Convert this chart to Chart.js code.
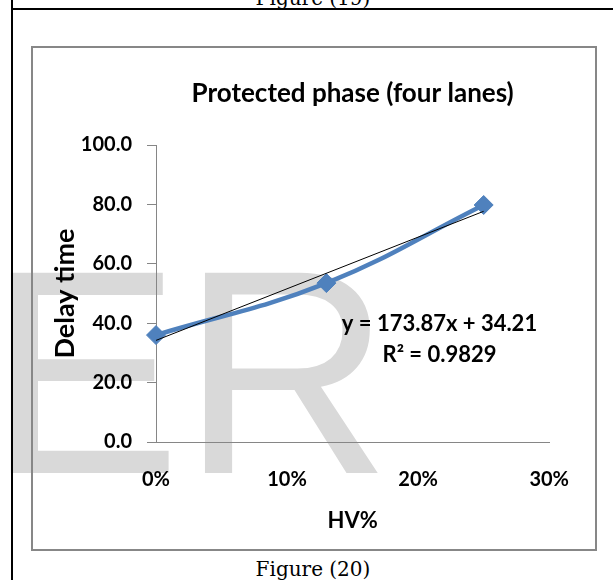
<!DOCTYPE html>
<html>
<head>
<meta charset="utf-8">
<script src="https://cdn.jsdelivr.net/npm/chart.js@4.4.1/dist/chart.umd.min.js"></script>
<style>
  html, body { margin: 0; padding: 0; background: #fff; }
  #page { position: relative; width: 613px; height: 580px; overflow: hidden; background: #fff; }
  .rule { position: absolute; background: #000; }
  #ruleV { left: 11px; top: 0; width: 2px; height: 580px; }
  #ruleH { left: 11px; top: 8px; width: 602px; height: 2px; }
  .caption { position: absolute; left: 213px; width: 200px; text-align: center;
             font-family: "DejaVu Serif", serif; font-size: 20px; line-height: 20px; color: #000; white-space: nowrap; }
  #capTop { top: -12px; }
  #capBottom { top: 559px; }
  #mark { position: absolute; left: -13px; top: 227px; font-family: "Liberation Sans", Arial, sans-serif;
          font-size: 291px; line-height: 291px; color: #d9d9d9; white-space: nowrap; }
  #box { position: absolute; left: 31px; top: 46px; width: 566px; height: 505px;
         box-sizing: border-box; border: 2px solid #878787; }
  #chart { position: absolute; left: 33px; top: 48px; }
</style>
</head>
<body>
<div id="page">
  <div id="mark">ER</div>
  <div id="capTop" class="caption">Figure (19)</div>
  <div id="capBottom" class="caption">Figure (20)</div>
  <div id="ruleV" class="rule"></div>
  <div id="ruleH" class="rule"></div>
  <div id="box"></div>
  <canvas id="chart" width="562" height="501"></canvas>
</div>
<script>
// Heavy-vehicle share (fraction) and measured delay time
const hvShare = [0, 0.13, 0.25];
const delayTime = [36.0, 53.5, 79.8];

// Axis tick values
const xTicks = [0, 0.1, 0.2, 0.3];
const yTicks = [0, 20, 40, 60, 80, 100];

// Linear trendline fitted to the series
const trendSlope = 173.87;
const trendIntercept = 34.21;
const trendR2 = 0.9829;

const seriesPoints = hvShare.map((x, i) => ({ x: x, y: delayTime[i] }));
const trendX = [hvShare[0], hvShare[hvShare.length - 1]];
const trendPoints = trendX.map(x => ({ x: x, y: trendSlope * x + trendIntercept }));

const boldFont = (size) => ({ family: 'Lato', weight: 'bold', size: size });

// Trendline equation and R² drawn beside the line
const equationLabel = {
  id: 'equationLabel',
  afterDatasetsDraw(chart) {
    const { ctx, chartArea } = chart;
    const w = chartArea.right - chartArea.left;
    const h = chartArea.bottom - chartArea.top;
    const cx = chartArea.left + 0.721 * w;
    ctx.save();
    ctx.fillStyle = '#000';
    ctx.font = 'bold 22px Lato';
    ctx.textAlign = 'center';
    ctx.textBaseline = 'alphabetic';
    ctx.fillText('y = ' + trendSlope.toFixed(2) + 'x + ' + trendIntercept.toFixed(2), cx, chartArea.top + 0.626 * h);
    ctx.fillText('R\u00B2 = ' + trendR2.toFixed(4), cx, chartArea.top + 0.73 * h);
    ctx.restore();
  }
};

new Chart(document.getElementById('chart'), {
  type: 'scatter',
  data: {
    datasets: [
      {
        label: 'Linear (Delay time)',
        data: trendPoints,
        showLine: true,
        borderColor: '#000',
        borderWidth: 1,
        pointRadius: 0,
        tension: 0,
        order: 0,
        clip: false
      },
      {
        label: 'Delay time',
        data: seriesPoints,
        showLine: true,
        borderColor: '#4F81BD',
        backgroundColor: '#4F81BD',
        borderWidth: 4.5,
        pointStyle: 'rectRot',
        pointRadius: 9.5,
        pointBorderWidth: 1,
        pointBorderColor: '#4F81BD',
        pointBackgroundColor: '#4F81BD',
        tension: 0.4,
        order: 1,
        clip: false
      }
    ]
  },
  options: {
    responsive: false,
    animation: false,
    devicePixelRatio: 1,
    layout: { padding: { left: 0, right: 38, top: 0, bottom: 0 } },
    plugins: {
      legend: { display: false },
      tooltip: { enabled: false },
      title: {
        display: true,
        fullSize: false,
        text: 'Protected phase (four lanes)',
        color: '#000',
        font: boldFont(26),
        padding: { top: 30, bottom: 35.8 }
      }
    },
    scales: {
      x: {
        type: 'linear',
        min: 0,
        max: 0.3,
        afterBuildTicks: (s) => { s.ticks = xTicks.map(v => ({ value: v })); },
        afterFit: (s) => { s.height = 107; },
        grid: { display: false, drawTicks: false },
        border: { display: true, color: '#868686', width: 1 },
        ticks: {
          color: '#000',
          font: boldFont(20),
          padding: 26,
          maxRotation: 0,
          autoSkip: false,
          callback: (v) => Math.round(v * 100) + '%'
        },
        title: {
          display: true,
          text: 'HV%',
          color: '#000',
          font: boldFont(22),
          padding: { top: 0, bottom: 15 }
        }
      },
      y: {
        min: 0,
        max: 100,
        afterBuildTicks: (s) => { s.ticks = yTicks.map(v => ({ value: v })); },
        afterFit: (s) => { s.width = 123; },
        grid: { drawOnChartArea: false, drawTicks: true, tickLength: 9, color: '#868686', lineWidth: 1 },
        border: { display: true, color: '#868686', width: 1 },
        ticks: {
          color: '#000',
          font: boldFont(20),
          padding: 15,
          callback: (v) => Number(v).toFixed(1)
        },
        title: {
          display: true,
          text: 'Delay time',
          color: '#000',
          font: boldFont(27),
          padding: { top: 16, bottom: 0 }
        }
      }
    }
  },
  plugins: [equationLabel]
});
</script>
</body>
</html>
